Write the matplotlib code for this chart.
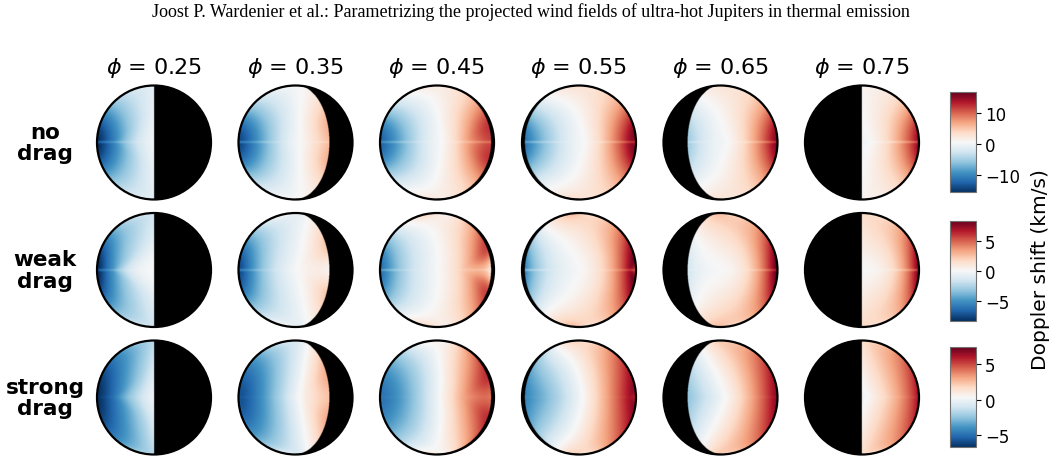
import numpy as np
import matplotlib.pyplot as plt
from matplotlib import patches as mpl_patches
from matplotlib.colors import Normalize
from matplotlib.cm import ScalarMappable

# orbital phases (columns) and drag cases (rows)
phases = [0.25, 0.35, 0.45, 0.55, 0.65, 0.75]
drag_labels = ['no\ndrag', 'weak\ndrag', 'strong\ndrag']

# colour bar ranges and ticks per row (km/s)
cbar_min = [-15.4, -8.2, -6.7]
cbar_max = [16.5, 8.3, 7.4]
cbar_ticks = [[-10, 0, 10], [-5, 0, 5], [-5, 0, 5]]

# wind parameters per drag case (km/s), estimated from the maps
v_rot = [4.0, 3.0, 5.8]       # solid-body rotation at the equator
v_jet = [11.5, 5.5, 0.8]      # equatorial jet (strongest at the limb)
jet_width = [35., 40., 40.]   # jet half-width in latitude (deg)
jet_limb = [0.3, 0.9, 0.5]    # how strongly the jet is confined to the limb
v_dn = [2.5, 1.6, 1.3]        # day-to-night flow
dn_west = [0.3, 0.5, 0.5]     # extra day-to-night flow on the morning side
v_mer = [1.0, 1.5, 1.5]       # meridional flow (gives the chevrons)
streak = [0.3, 0.35, 0.3]     # depth of the thin equatorial streak
quiet_eve = [0.3, 0.9, 0.4]   # calm equatorial band near the evening terminator

header = ('Joost P. Wardenier et al.: Parametrizing the projected wind '
          'fields of ultra-hot Jupiters in thermal emission')

W, H = 1056, 464
col_x = [154, 295.5, 437, 579, 720.5, 862]
row_y = [143.5, 271, 398.5]
disk_r = 57
cbar_top = [93.3, 221.7, 348.3]
cbar_h = 100


def doppler_map(phase, i, n=401):
    x, y = np.meshgrid(np.linspace(-1, 1, n), np.linspace(-1, 1, n))
    z = np.sqrt(np.clip(1 - x**2 - y**2, 0, None))
    ang = 2 * np.pi * (phase - 0.5)
    sx, sz = np.sin(ang), np.cos(ang)
    mu = sx * x + sz * z                      # cos of angle to substellar point
    coslat = np.sqrt(np.clip(1 - y**2, 1e-6, None))
    lat = np.degrees(np.arcsin(np.clip(y, -1, 1)))
    lon = np.arctan2(sz * x - sx * z, mu)    # longitude east of substellar

    jet = v_jet[i] * np.exp(-(lat / jet_width[i])**2) * (1 - z**2)**jet_limb[i]
    jet *= 1 - streak[i] * np.exp(-(lat / 1.2)**2)
    dop = v_rot[i] * x + jet * x / coslat
    dop += v_dn[i] * (sz - mu * z) * (1 - dn_west[i] * np.sin(lon))
    dop += v_mer[i] * (-np.sin(lon)) * z * np.abs(y) / coslat

    # calm equatorial wedge towards the evening terminator
    ramp = np.clip((np.degrees(lon) - 45) / 45, 0, 1)
    wedge = 2 + 16 * ramp
    dop *= 1 - quiet_eve[i] * ramp * np.exp(-(lat / wedge)**2)

    dop[mu < 0] = np.nan
    return dop


fig = plt.figure(figsize=(W / 100, H / 100), dpi=100)
cmap = plt.get_cmap('RdBu_r').copy()
cmap.set_bad('black')

fig.text(531 / W, 1 - 12 / H, header, family='Liberation Serif',
         fontsize=13, ha='center', va='center')

for i, label in enumerate(drag_labels):
    norm = Normalize(cbar_min[i], cbar_max[i])
    for j, phase in enumerate(phases):
        half = disk_r * 1.06
        ax = fig.add_axes([(col_x[j] - half) / W, (H - row_y[i] - half) / H,
                           2 * half / W, 2 * half / H])
        dop = doppler_map(phase, i)
        im = ax.imshow(dop, cmap=cmap, norm=norm, origin='lower',
                       extent=[-1, 1, -1, 1], interpolation='bilinear')
        circ = mpl_patches.Circle((0, 0), 1, transform=ax.transData,
                                  fc='none', ec='black', lw=1.6)
        im.set_clip_path(circ)
        ax.add_patch(circ)
        ax.set_xlim(-1.06, 1.06)
        ax.set_ylim(-1.06, 1.06)
        ax.axis('off')
        if i == 0:
            fig.text(col_x[j] / W, 1 - 68 / H, rf'$\phi$ = {phase:.2f}',
                     fontsize=16, ha='center', va='center')

    fig.text(45 / W, 1 - row_y[i] / H, label, fontsize=15.5,
             fontweight='bold', ha='center', va='center', linespacing=1.1)

    cax = fig.add_axes([950 / W, (H - cbar_top[i] - cbar_h) / H,
                        25.5 / W, cbar_h / H])
    cb = fig.colorbar(ScalarMappable(norm=norm, cmap=cmap), cax=cax,
                      ticks=cbar_ticks[i])
    cb.ax.tick_params(labelsize=12)
    cb.outline.set_edgecolor('0.45')

fig.text(1040 / W, 1 - 270 / H, 'Doppler shift (km/s)', rotation=90,
         fontsize=14.5, ha='center', va='center')

fig.savefig('out.png', dpi=100)
